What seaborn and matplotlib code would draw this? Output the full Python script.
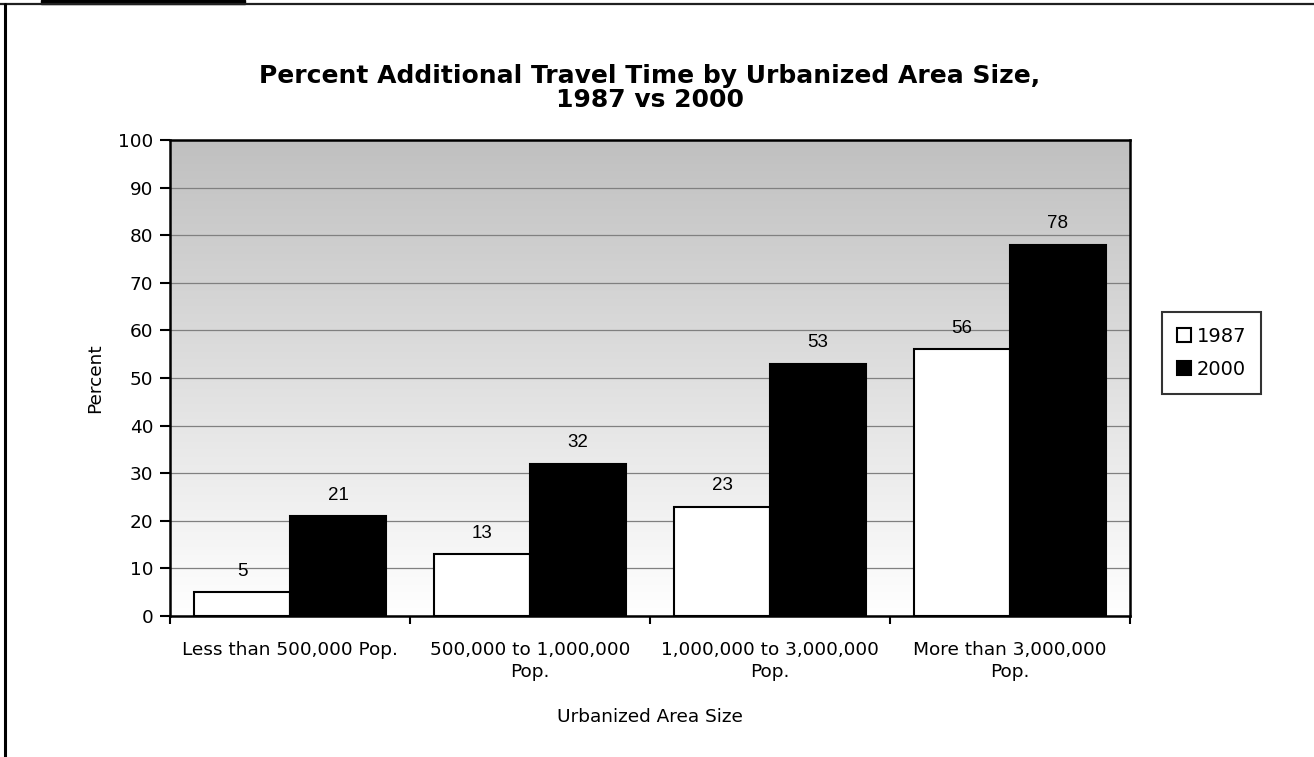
import numpy as np
import pandas as pd
import matplotlib
matplotlib.use("Agg")
import matplotlib.pyplot as plt
from matplotlib.patches import Rectangle
from matplotlib.lines import Line2D
import seaborn as sns

# Data
categories = ["Less than 500,000 Pop.", "500,000 to 1,000,000\nPop.",
              "1,000,000 to 3,000,000\nPop.", "More than 3,000,000\nPop."]
years = ["1987", "2000"]
values_1987 = [5, 13, 23, 56]
values_2000 = [21, 32, 53, 78]
y_ticks = list(range(0, 101, 10))

df = pd.DataFrame({
    "Urbanized Area Size": categories * 2,
    "Percent": values_1987 + values_2000,
    "Year": [years[0]] * len(categories) + [years[1]] * len(categories),
})

sns.set_style("white")
plt.rcParams["font.family"] = ["DejaVu Sans"]
plt.rcParams["text.color"] = "black"
plt.rcParams["axes.labelcolor"] = "black"
plt.rcParams["xtick.color"] = "black"
plt.rcParams["ytick.color"] = "black"

W, H = 1314, 757
fig = plt.figure(figsize=(W / 100, H / 100), dpi=100)
ax = fig.add_axes([170 / W, 1 - 616 / H, (1130 - 170) / W, (616 - 140) / H])

# Vertical gray-to-white gradient behind the plot
grad = np.linspace(192, 255, 256).reshape(-1, 1) / 255.0
grad_rgb = np.dstack([grad, grad, grad])
ax.imshow(grad_rgb, extent=[0, 1, 0, 1], transform=ax.transAxes,
          aspect="auto", origin="upper", zorder=0, interpolation="bilinear")

sns.barplot(data=df, x="Urbanized Area Size", y="Percent", hue="Year",
            palette=["white", "black"], edgecolor="black", linewidth=1.5,
            width=0.8, gap=0, ax=ax, zorder=3, legend=True)

for container in ax.containers:
    ax.bar_label(container, padding=9, fontsize=13.5,
                 fontfamily="Liberation Sans", color="black")

ax.set_ylim(0, 100)
ax.set_xlim(-0.5, len(categories) - 0.5)
ax.set_yticks(y_ticks)
ax.yaxis.grid(True, color="#808080", linewidth=0.9, zorder=1)
ax.set_axisbelow(True)
ax.tick_params(axis="y", which="major", direction="out", length=7, width=1.5,
               color="black", labelsize=13.3, pad=5, left=True)
ax.set_xticks(range(len(categories)))
ax.set_xticklabels(categories, fontsize=13.3, linespacing=1.3)
ax.tick_params(axis="x", which="major", length=0, pad=18)
ax.set_xticks([i - 0.5 for i in range(len(categories) + 1)], minor=True)
ax.tick_params(axis="x", which="minor", direction="out", length=6, width=1.5,
               color="black", bottom=True)

for s in ax.spines.values():
    s.set_visible(True)
    s.set_color("black")
    s.set_linewidth(1.8)
    s.set_zorder(5)

ax.set_xlabel("Urbanized Area Size", fontsize=13.3, labelpad=19)
ax.set_ylabel("Percent", fontsize=13.3, labelpad=10)

ax.set_title("Percent Additional Travel Time by Urbanized Area Size,\n1987 vs 2000",
             fontsize=18, fontweight="bold", pad=24, linespacing=0.98,
             color="black")

# Legend
handles = [Line2D([], [], marker="s", linestyle="none", markersize=9.5,
                  markerfacecolor=c, markeredgecolor="black", markeredgewidth=1.5)
           for c in ["white", "black"]]
ax.get_legend().remove()
leg = fig.legend(handles, years, loc="upper left",
                 bbox_to_anchor=(1162 / W, 1 - 312 / H), fontsize=14,
                 frameon=True, fancybox=False, handletextpad=0.25,
                 handlelength=0.8, borderpad=0.75, labelspacing=0.75,
                 borderaxespad=0)
leg.get_frame().set_edgecolor("black")
leg.get_frame().set_linewidth(1.5)

# Page frame: top rule, left rule and a dark tab
fig.add_artist(Line2D([0, 1], [1 - 3.5 / H, 1 - 3.5 / H], transform=fig.transFigure,
                      color="#202020", linewidth=1.6))
fig.add_artist(Line2D([5 / W, 5 / W], [0, 1 - 3.5 / H], transform=fig.transFigure,
                      color="black", linewidth=2.2))
fig.add_artist(Rectangle((41 / W, 1 - 4 / H), (245 - 41) / W, 4 / H,
                         transform=fig.transFigure, color="black"))

fig.savefig("out.png", dpi=100)
